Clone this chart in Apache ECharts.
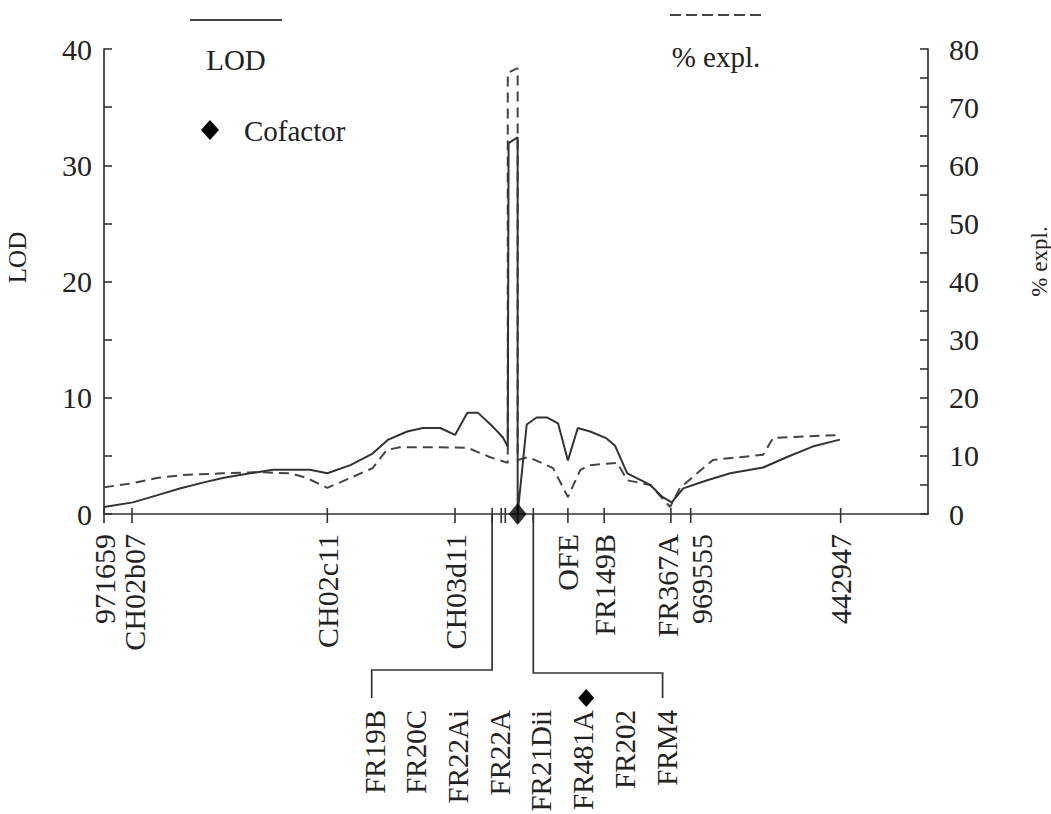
<!DOCTYPE html>
<html>
<head>
<meta charset="utf-8">
<script src="https://cdn.jsdelivr.net/npm/echarts@6/dist/echarts.min.js"></script>
<style>
html,body{margin:0;padding:0;background:#fff;overflow:hidden;}
#chart{width:1051px;height:814px;}
</style>
</head>
<body>
<div id="chart"></div>
<script>
// ---- data (map position in cM) ----
const lodPos = [0, 3.5, 6.4, 9.2, 12.0, 14.4, 17.7, 20.5, 25.0, 27.1, 29.9, 32.6, 34.5, 36.8, 38.7, 40.8, 42.6, 44.1, 45.4, 47.2, 48.4, 49.0, 49.1, 50.2, 50.2, 51.3, 52.5, 53.8, 55.1, 56.3, 57.5, 59.0, 61.0, 62.0, 63.5, 66.3, 67.7, 68.9, 70.3, 73.2, 76.0, 80.0, 82.9, 86.0, 89.3];
const lodVal = [0.6, 1.0, 1.6, 2.2, 2.7, 3.1, 3.5, 3.8, 3.8, 3.5, 4.2, 5.2, 6.4, 7.1, 7.4, 7.4, 6.8, 8.7, 8.7, 7.5, 6.6, 5.8, 31.9, 32.4, 0, 7.7, 8.3, 8.3, 7.8, 4.6, 7.4, 7.1, 6.5, 5.9, 3.5, 2.5, 1.5, 1.0, 2.2, 2.9, 3.5, 4.0, 4.9, 5.8, 6.4];
const pctPos = [0, 3.5, 6.4, 9.6, 14.4, 18.6, 22.6, 24.6, 27.1, 29.9, 32.6, 34.3, 35.9, 38.7, 44.1, 45.3, 46.8, 49.0, 49.0, 50.2, 50.2, 51.5, 54.5, 56.3, 57.8, 59.0, 62.3, 63.5, 66.3, 68.7, 69.9, 73.9, 80.0, 81.2, 89.3];
const pctVal = [4.6, 5.3, 6.2, 6.7, 7.0, 7.2, 7.0, 6.2, 4.5, 6.2, 7.9, 11.0, 11.5, 11.5, 11.4, 10.7, 9.8, 8.8, 75.9, 76.7, 9.3, 9.8, 7.9, 2.9, 7.6, 8.4, 8.8, 5.8, 5.0, 1.2, 4.5, 9.3, 10.2, 13.1, 13.6];

const markerNames = ['971659', 'CH02b07', 'CH02c11', 'CH03d11', 'OFE', 'FR149B', 'FR367A', '969555', '442947'];
const markerPos = [0, 3.4, 27.1, 42.6, 56.3, 60.7, 68.8, 71.2, 89.4];
const clusterTickPos = [47.1, 48.2, 48.7, 50.2, 52.1];
const clusterLeftNames = ['FR19B', 'FR20C', 'FR22Ai', 'FR22A'];
const clusterLeftAnchor = 47.1;
const clusterRightNames = ['FR21Dii', 'FR481A', 'FR202', 'FRM4'];
const clusterRightAnchor = 52.1;
const cofactorName = 'FR481A';
const cofactorPos = 50.2;

const lodTicks = [0, 10, 20, 30, 40];
const pctTicks = [0, 10, 20, 30, 40, 50, 60, 70, 80];

// ---- chart ----
const FONT = '"Liberation Serif", "DejaVu Serif", serif';
const INK = '#222';
// small horizontal label nudges (pixels) to keep crowded marker names apart
const labelNudge = {'CH02b07': 2, 'FR367A': -3, '969555': 11};
const chart = echarts.init(document.getElementById('chart'), null, {renderer: 'svg', width: 1051, height: 814});

function zip(a, b) { return a.map((v, i) => [v, b[i]]); }
function diamondPts(cx, cy, w, h) { return [[cx, cy - h], [cx + w, cy], [cx, cy + h], [cx - w, cy]]; }

function rotText(x, y, text, size) {
  return {
    type: 'text', x: x, y: y, rotation: Math.PI / 2,
    style: {text: text, font: size + 'px ' + FONT, fill: INK, align: 'right', verticalAlign: 'middle'}
  };
}

function markerRender(params, api) {
  const children = [];
  const tickStyle = {stroke: '#333', lineWidth: 1.6};
  const allTicks = markerPos.concat(clusterTickPos);
  allTicks.forEach(v => {
    const p = api.coord([v, 0]);
    children.push({type: 'line', shape: {x1: p[0], y1: p[1] - 6, x2: p[0], y2: p[1] + 9}, style: tickStyle});
  });
  markerNames.forEach((name, i) => {
    const p = api.coord([markerPos[i], 0]);
    children.push(rotText(p[0] + (labelNudge[name] || 0), p[1] + 20, name, 30));
  });
  return {type: 'group', children: children};
}

function clusterRender(params, api) {
  const p0 = api.coord([clusterLeftAnchor, 0]);
  const p1 = api.coord([clusterRightAnchor, 0]);
  const pc = api.coord([cofactorPos, 0]);
  const axisY = p0[1];
  const spacing = 41.7;
  const all = clusterLeftNames.concat(clusterRightNames);
  const n = all.length;
  const centerX = pc[0] + 3;
  const xs = all.map((_, i) => centerX + (i - (n - 1) / 2) * spacing);
  const bracketYL = axisY + 156;
  const bracketYR = axisY + 159;
  const dropY = axisY + 184;
  const labelTop = axisY + 196;
  const ls = {stroke: '#333', lineWidth: 1.7, fill: null};
  const children = [];
  children.push({type: 'polyline', shape: {points: [[p0[0], axisY], [p0[0], bracketYL], [xs[0] - 3, bracketYL], [xs[0] - 3, dropY]]}, style: ls});
  children.push({type: 'polyline', shape: {points: [[p1[0], axisY], [p1[0], bracketYR], [xs[n - 1] - 4, bracketYR], [xs[n - 1] - 4, dropY]]}, style: ls});
  all.forEach((name, i) => {
    children.push(rotText(xs[i], labelTop, name, 29));
    if (name === cofactorName) {
      children.push({type: 'polygon', shape: {points: diamondPts(xs[i] + 3, labelTop - 12, 8, 9)}, style: {fill: '#000'}});
    }
  });
  return {type: 'group', children: children};
}

const option = {
  backgroundColor: '#fff',
  animation: false,
  grid: {left: 104, right: 123, top: 49, bottom: 300, containLabel: false, outerBoundsMode: 'none'},
  xAxis: {
    type: 'value', min: 0, max: 100,
    splitLine: {show: false},
    axisLine: {show: true, onZero: false, lineStyle: {color: '#333', width: 1.7}},
    axisTick: {show: false},
    axisLabel: {show: false}
  },
  yAxis: [{
    type: 'value', min: 0, max: 40, interval: 5, position: 'left',
    name: 'LOD', nameLocation: 'middle', nameGap: 74, nameRotate: 90,
    nameTextStyle: {fontFamily: FONT, fontSize: 25, color: INK, padding: [0, 0, 0, 48]},
    splitLine: {show: false},
    axisLine: {show: true, lineStyle: {color: '#333', width: 1.7}},
    axisTick: {show: true, inside: true, length: 8, lineStyle: {color: '#333', width: 1.6}},
    axisLabel: {fontFamily: FONT, fontSize: 30, color: INK, margin: 12,
      formatter: v => (lodTicks.indexOf(v) >= 0 ? String(v) : '')}
  }, {
    type: 'value', min: 0, max: 80, interval: 5, position: 'right',
    name: '% expl.', nameLocation: 'middle', nameGap: 100, nameRotate: 90,
    nameTextStyle: {fontFamily: FONT, fontSize: 23, color: INK, padding: [0, 0, 0, 40]},
    splitLine: {show: false},
    axisLine: {show: true, lineStyle: {color: '#333', width: 1.7}},
    axisTick: {show: true, inside: true, length: 8, lineStyle: {color: '#333', width: 1.6}},
    axisLabel: {fontFamily: FONT, fontSize: 30, color: INK, margin: 21,
      formatter: v => (pctTicks.indexOf(v) >= 0 ? String(v) : '')}
  }],
  graphic: [
    {type: 'line', shape: {x1: 190, y1: 20, x2: 282, y2: 20}, style: {stroke: '#444', lineWidth: 2}},
    {type: 'text', x: 236, y: 60, style: {text: 'LOD', font: '29px ' + FONT, fill: INK, align: 'center', verticalAlign: 'middle'}},
    {type: 'line', shape: {x1: 670, y1: 15, x2: 762, y2: 15}, style: {stroke: '#444', lineWidth: 2, lineDash: [11, 5]}},
    {type: 'text', x: 716, y: 57, style: {text: '% expl.', font: '29px ' + FONT, fill: INK, align: 'center', verticalAlign: 'middle'}},
    {type: 'polygon', shape: {points: diamondPts(210, 130, 9, 10)}, style: {fill: '#000'}},
    {type: 'text', x: 244, y: 131, style: {text: 'Cofactor', font: '29px ' + FONT, fill: INK, align: 'left', verticalAlign: 'middle'}}
  ],
  series: [
    {
      name: 'LOD', type: 'line', xAxisIndex: 0, yAxisIndex: 0,
      data: zip(lodPos, lodVal), symbol: 'none', smooth: false,
      lineStyle: {color: '#333', width: 2}, z: 3
    },
    {
      name: '% expl.', type: 'line', xAxisIndex: 0, yAxisIndex: 1,
      data: zip(pctPos, pctVal), symbol: 'none', smooth: false,
      lineStyle: {color: '#444', width: 2, type: [10, 6]}, z: 2
    },
    {
      name: 'Cofactor', type: 'scatter', xAxisIndex: 0, yAxisIndex: 0,
      data: [[cofactorPos, 0]], symbol: 'diamond', symbolSize: [18, 22],
      itemStyle: {color: '#000'}, clip: false, z: 6, silent: true
    },
    {
      name: 'markers', type: 'custom', xAxisIndex: 0, yAxisIndex: 0,
      data: [[0, 0]], renderItem: markerRender, clip: false, z: 4, silent: true
    },
    {
      name: 'cluster', type: 'custom', xAxisIndex: 0, yAxisIndex: 0,
      data: [[cofactorPos, 0]], renderItem: clusterRender, clip: false, z: 4, silent: true
    }
  ]
};
chart.setOption(option);
</script>
</body>
</html>
